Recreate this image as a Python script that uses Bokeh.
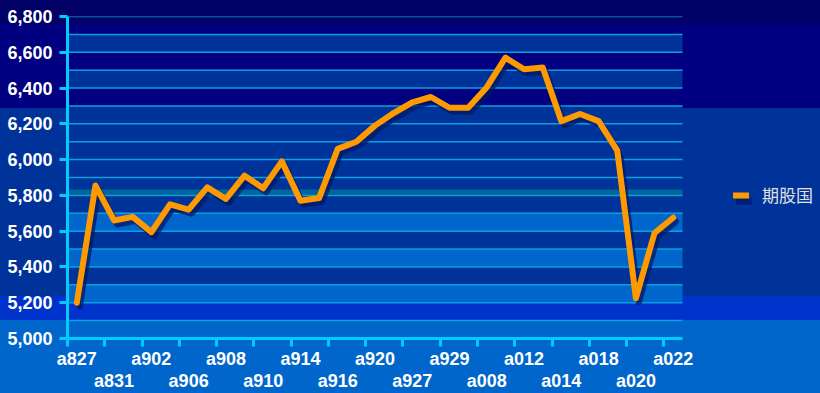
import numpy as np
from bokeh.plotting import figure
from bokeh.models import (FixedTicker, NumeralTickFormatter, LinearAxis, BoxAnnotation,
                          Legend, LegendItem, Range1d, GlobalInlineStyleSheet)
from bokeh.embed import file_html
from bokeh.resources import INLINE

# ---------------- data ----------------
values = [5200, 5855, 5660, 5680, 5595, 5750, 5720, 5845, 5780, 5910, 5840, 5990,
          5770, 5785, 6060, 6100, 6190, 6260, 6320, 6350, 6290, 6290, 6405, 6570,
          6505, 6515, 6215, 6255, 6215, 6050, 5225, 5590, 5675]
tick_labels = ["a827", "a831", "a902", "a906", "a908", "a910", "a914", "a916", "a920",
               "a927", "a929", "a008", "a012", "a014", "a018", "a020", "a022"]
series_name = "期股国"
y_ticks = list(range(5000, 6801, 200))
y_grid = list(range(5100, 6801, 100))

# ---------------- layout ----------------
W, H = 820, 393
FL, PR, FT, FB = 67, 682, 16, 338       # frame left/top/bottom, plot-area right edge
CYAN = "#00ccff"
LBL_FONT = "Liberation Sans"

n = len(values)
x = np.arange(n)
vals = np.array(values, dtype=float)
x_lo, x_hi = -0.5, n - 0.5
x_end = x_lo + n * (W - FL) / (PR - FL)   # frame extends to canvas right (legend area)

label_pos = x[::2]
row1 = {int(px): lab for px, lab in zip(label_pos[0::2], tick_labels[0::2])}
row2 = {int(px): lab for px, lab in zip(label_pos[1::2], tick_labels[1::2])}
boundaries = list(np.arange(x_lo, n - 1, 2.0))

bg = ("linear-gradient(to bottom, #000066 0px, #000066 24px, #000080 24px, #000080 108px, "
      "#003399 108px, #003399 296px, #0033cc 296px, #0033cc 320px, #0066cc 320px, #0066cc 100%)")

p = figure(width=W, height=H, output_backend="svg", toolbar_location=None,
           x_range=Range1d(x_lo, x_end), y_range=Range1d(5000, 6800),
           x_axis_type=None, y_axis_type=None,
           min_border_left=FL, min_border_right=0, min_border_top=FT, min_border_bottom=H - FB)
p.stylesheets = [GlobalInlineStyleSheet(
    css="html,body{margin:0;padding:0;overflow:hidden;background:#0066cc;}")]
p.styles = {"background": bg}
p.border_fill_color = None
p.background_fill_color = None
p.outline_line_color = None

# alternating plot bands
for b in range(5000, 6800, 200):
    c = "#003399" if b >= 5800 else "#0066cc"
    p.add_layout(BoxAnnotation(left=x_lo, right=x_hi, bottom=b, top=b + 100,
                               fill_color=c, fill_alpha=1, line_color=None, level="image"))
p.add_layout(BoxAnnotation(left=x_lo, right=x_hi, bottom=5800, top=5833,
                           fill_color="#006699", fill_alpha=1, line_color=None, level="image"))

# horizontal grid lines (limited to the plot area)
p.segment(x0=[x_lo] * len(y_grid), x1=[x_hi] * len(y_grid), y0=y_grid, y1=y_grid,
          line_color="#0aa0e0", line_width=1.5, level="underlay")

# y axis
yaxis = LinearAxis(ticker=FixedTicker(ticks=y_ticks), formatter=NumeralTickFormatter(format="0,0"),
                   axis_line_color=CYAN, axis_line_width=3,
                   major_tick_line_color=CYAN, major_tick_line_width=3,
                   major_tick_out=8, major_tick_in=0,
                   minor_tick_line_color=None,
                   major_label_standoff=7,
                   major_label_text_font=LBL_FONT, major_label_text_font_style="bold",
                   major_label_text_font_size="18px", major_label_text_color="white")
p.add_layout(yaxis, "left")

# x axis row 1 (with line and ticks)
xaxis1 = LinearAxis(ticker=FixedTicker(ticks=list(row1.keys()), minor_ticks=boundaries),
                    major_label_overrides=row1, bounds=(x_lo, x_hi),
                    axis_line_color=CYAN, axis_line_width=3,
                    major_tick_line_color=None, major_tick_out=0, major_tick_in=0,
                    minor_tick_line_color=CYAN, minor_tick_line_width=3,
                    minor_tick_out=8, minor_tick_in=0,
                    major_label_standoff=2,
                    major_label_text_font=LBL_FONT, major_label_text_font_style="bold",
                    major_label_text_font_size="18px", major_label_text_color="white")
p.add_layout(xaxis1, "below")
xaxis2 = LinearAxis(ticker=FixedTicker(ticks=list(row2.keys())),
                    major_label_overrides=row2, bounds=(x_lo, x_hi),
                    axis_line_color=None,
                    major_tick_line_color=None, major_tick_out=0, major_tick_in=0,
                    minor_tick_line_color=None,
                    major_label_standoff=-1,
                    major_label_text_font=LBL_FONT, major_label_text_font_style="bold",
                    major_label_text_font_size="18px", major_label_text_color="white")
p.add_layout(xaxis2, "below")

# shadow + line
dx = 3 / ((PR - FL) / n)
dy = 4 * 1800 / (FB - FT)
shadow = p.line(x + dx, vals - dy, line_color="#001a66", line_alpha=0.75, line_width=6,
                line_join="round", line_cap="round")
line = p.line(x, vals, line_color="#ff9900", line_width=6, line_join="round", line_cap="round")

# legend (inside the extended frame, right of the plot area)
vx, vy = 733 - FL, FB - 207
common = dict(padding=0, margin=0, glyph_width=16, glyph_height=20, label_height=20,
              label_standoff=13, label_text_font="Noto Sans CJK SC", label_text_font_size="17px",
              label_text_color="#e0e0e0", background_fill_alpha=0, border_line_alpha=0)
leg_sh = Legend(items=[LegendItem(label=" ", renderers=[shadow])], location=(vx + 3, vy - 4), **common)
leg = Legend(items=[LegendItem(label=series_name, renderers=[line])], location=(vx, vy), **common)
p.add_layout(leg_sh)
p.add_layout(leg)

open("out.html", "w").write(file_html(p, INLINE))
